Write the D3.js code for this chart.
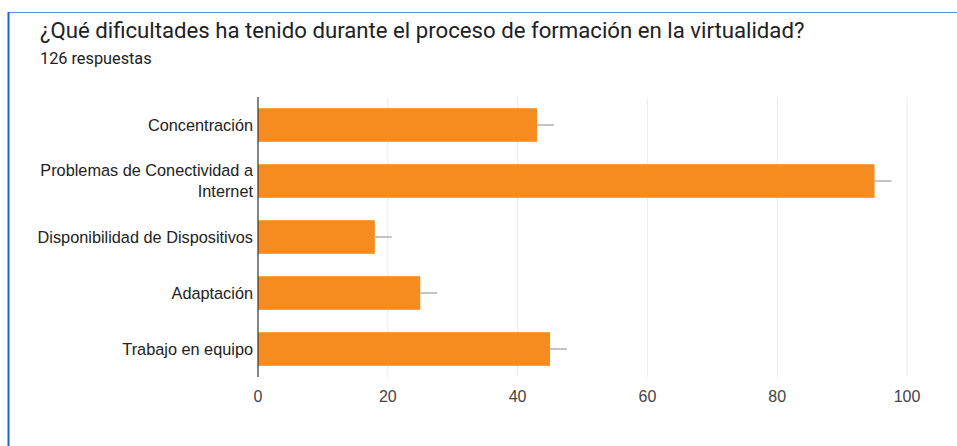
<!DOCTYPE html>
<html>
<head>
<meta charset="utf-8">
<script src="https://cdn.jsdelivr.net/npm/d3@7"></script>
<style>
  body { margin: 0; background: #fff; }
</style>
</head>
<body>
<div id="chart"></div>
<script>
    const width = 957, height = 446;

    // datos
    const categories = [
        ["Concentración"],
        ["Problemas de Conectividad a", "Internet"],
        ["Disponibilidad de Dispositivos"],
        ["Adaptación"],
        ["Trabajo en equipo"]
    ];
    const values = [43, 95, 18, 25, 45];
    const ticks = [0, 20, 40, 60, 80, 100];

    const margin = {top: 97, right: 50, bottom: 69, left: 258};

    const svg = d3.select("#chart")
        .append("svg")
        .attr("width", width)
        .attr("height", height);

    // borde azul de la tarjeta
    svg.append("line")
        .attr("x1", 8).attr("x2", width).attr("y1", 12.5).attr("y2", 12.5)
        .attr("stroke", "#5b8fd6").attr("stroke-width", 1.2);
    svg.append("line")
        .attr("x1", 8.5).attr("x2", 8.5).attr("y1", 12).attr("y2", height)
        .attr("stroke", "#1c66c9").attr("stroke-width", 2);

    // título
    svg.append("text")
        .attr("x", 40).attr("y", 38)
        .attr("font-family", "Roboto, 'Noto Sans', sans-serif")
        .attr("font-size", 22.2)
        .attr("fill", "#202124")
        .text("¿Qué dificultades ha tenido durante el proceso de formación en la virtualidad?");
    svg.append("text")
        .attr("x", 40).attr("y", 64)
        .attr("font-family", "Roboto, 'Noto Sans', sans-serif")
        .attr("font-size", 16.3)
        .attr("fill", "#202124")
        .text("126 respuestas");

    const x = d3.scaleLinear()
        .domain([0, 100])
        .range([margin.left, width - margin.right]);

    const y = d3.scaleBand()
        .domain(d3.range(categories.length))
        .range([margin.top, height - margin.bottom])
        .paddingInner(0.4)
        .paddingOuter(0.2);

    // líneas de cuadrícula
    svg.append("g")
        .selectAll("line")
        .data(ticks.slice(1))
        .enter().append("line")
        .attr("x1", d => x(d)).attr("x2", d => x(d))
        .attr("y1", margin.top).attr("y2", height - margin.bottom)
        .attr("stroke", "#ececec")
        .attr("stroke-width", 1);

    // barras
    svg.append("g")
        .selectAll("rect")
        .data(values)
        .enter().append("rect")
        .attr("x", x(0))
        .attr("y", (d, i) => y(i))
        .attr("width", d => x(d) - x(0))
        .attr("height", y.bandwidth())
        .attr("fill", "#f68b1f");

    // pequeñas líneas grises al final de cada barra
    svg.append("g")
        .selectAll("line")
        .data(values)
        .enter().append("line")
        .attr("x1", d => x(d))
        .attr("x2", d => x(d + 2.6))
        .attr("y1", (d, i) => y(i) + y.bandwidth() / 2)
        .attr("y2", (d, i) => y(i) + y.bandwidth() / 2)
        .attr("stroke", "#888")
        .attr("stroke-width", 1);

    // eje vertical
    svg.append("line")
        .attr("x1", x(0)).attr("x2", x(0))
        .attr("y1", margin.top).attr("y2", height - margin.bottom)
        .attr("stroke", "#333")
        .attr("stroke-width", 1.2);

    // etiquetas de categorías
    const labels = svg.append("g")
        .selectAll("text")
        .data(categories)
        .enter().append("text")
        .attr("text-anchor", "end")
        .attr("font-family", "'Liberation Sans', Arial, sans-serif")
        .attr("font-size", 16.3)
        .attr("fill", "#222");

    labels.each(function(lines, i) {
        const cy = y(i) + y.bandwidth() / 2;
        const start = cy - (lines.length - 1) * 10.5 + 5.5;
        d3.select(this).selectAll("tspan")
            .data(lines)
            .enter().append("tspan")
            .attr("x", x(0) - 5)
            .attr("y", (d, j) => start + j * 21)
            .text(d => d);
    });

    // etiquetas del eje x
    svg.append("g")
        .selectAll("text")
        .data(ticks)
        .enter().append("text")
        .attr("x", d => x(d))
        .attr("y", height - margin.bottom + 25)
        .attr("text-anchor", "middle")
        .attr("font-family", "'Liberation Sans', Arial, sans-serif")
        .attr("font-size", 16)
        .attr("fill", "#444")
        .text(d => d);
</script>
</body>
</html>
